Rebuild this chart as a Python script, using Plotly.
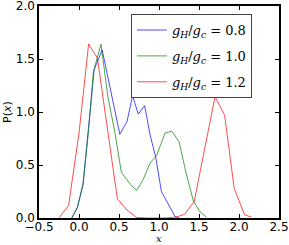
import plotly.graph_objects as go

# g_H/g_c = 0.8
x_blue = [-0.09, -0.02, 0.05, 0.12, 0.19, 0.29, 0.37, 0.44, 0.51, 0.60, 0.67, 0.74, 0.82, 0.89, 0.96, 1.03, 1.12, 1.20, 1.25]
y_blue = [0.0, 0.10, 0.32, 0.83, 1.40, 1.585, 1.30, 1.04, 0.79, 0.91, 1.155, 0.98, 1.06, 0.78, 0.57, 0.25, 0.12, 0.015, 0.0]

# g_H/g_c = 1.0
x_green = [-0.09, -0.02, 0.05, 0.12, 0.18, 0.275, 0.36, 0.45, 0.53, 0.64, 0.72, 0.80, 0.89, 0.97, 1.075, 1.16, 1.25, 1.34, 1.43, 1.51, 1.59]
y_green = [0.0, 0.10, 0.31, 0.83, 1.38, 1.64, 1.15, 0.80, 0.43, 0.32, 0.26, 0.36, 0.52, 0.59, 0.80, 0.82, 0.72, 0.42, 0.16, 0.06, 0.01]

# g_H/g_c = 1.2
x_red = [-0.25, -0.13, 0.0, 0.12, 0.23, 0.36, 0.48, 0.60, 0.72, 0.84, 0.96, 1.08, 1.22, 1.32, 1.44, 1.57, 1.70, 1.82, 1.94, 2.07, 2.15]
y_red = [0.0, 0.12, 0.80, 1.64, 1.51, 0.84, 0.18, 0.075, 0.005, 0.0, 0.0, 0.0, 0.01, 0.035, 0.155, 0.65, 1.145, 0.97, 0.28, 0.03, 0.01]

labels = ["<i>g<sub>H</sub></i>/<i>g<sub>c</sub></i> = 0.8",
          "<i>g<sub>H</sub></i>/<i>g<sub>c</sub></i> = 1.0",
          "<i>g<sub>H</sub></i>/<i>g<sub>c</sub></i> = 1.2"]
colors = ["rgba(0,0,255,0.7)", "rgba(0,128,0,0.7)", "rgba(255,0,0,0.7)"]

x_ticks = [-0.5, 0.0, 0.5, 1.0, 1.5, 2.0, 2.5]
y_ticks = [0.0, 0.5, 1.0, 1.5, 2.0]

fig = go.Figure()
for i, (xs, ys, lab, col) in enumerate(zip([x_blue, x_green, x_red], [y_blue, y_green, y_red], labels, colors)):
    fig.add_trace(go.Scatter(x=xs, y=ys, mode="lines", name=lab, legendgroup=f"g{i}",
                             line=dict(color=col, width=1)))

axis_common = dict(showline=True, linecolor="black", linewidth=1.5, mirror="allticks",
                   ticks="inside", ticklen=4, tickcolor="black", showgrid=False,
                   zeroline=False, tickfont=dict(family="DejaVu Sans", size=12, color="black"),
                   tickformat=".1f", ticklabeloverflow="allow", automargin=False)

fig.update_layout(
    width=289, height=245,
    margin=dict(l=39, r=10, t=6, b=27),
    paper_bgcolor="white", plot_bgcolor="white",
    xaxis=dict(range=[-0.5, 2.5], tickvals=x_ticks, ticklabelstandoff=-3, **axis_common),
    yaxis=dict(range=[0, 2.0], tickvals=y_ticks, **axis_common,
               title=dict(text="P(<i>x</i>)", font=dict(family="DejaVu Sans", size=11, color="black"), standoff=2)),
    legend=dict(x=0.383, y=0.962, xanchor="left", yanchor="top",
                bgcolor="white", bordercolor="#444", borderwidth=1,
                font=dict(family="DejaVu Serif", size=13, color="black"),
                tracegroupgap=6, itemwidth=30),
    showlegend=True,
    annotations=[dict(text="<i>x</i>", xref="paper", yref="paper", x=0.5, y=-0.095,
                      xanchor="center", yanchor="middle", showarrow=False,
                      font=dict(family="DejaVu Serif", size=10, color="black"))],
)

fig.write_html("out.html", config={"displayModeBar": False},
               post_script="document.body.style.margin='0';document.body.style.overflow='hidden';")
